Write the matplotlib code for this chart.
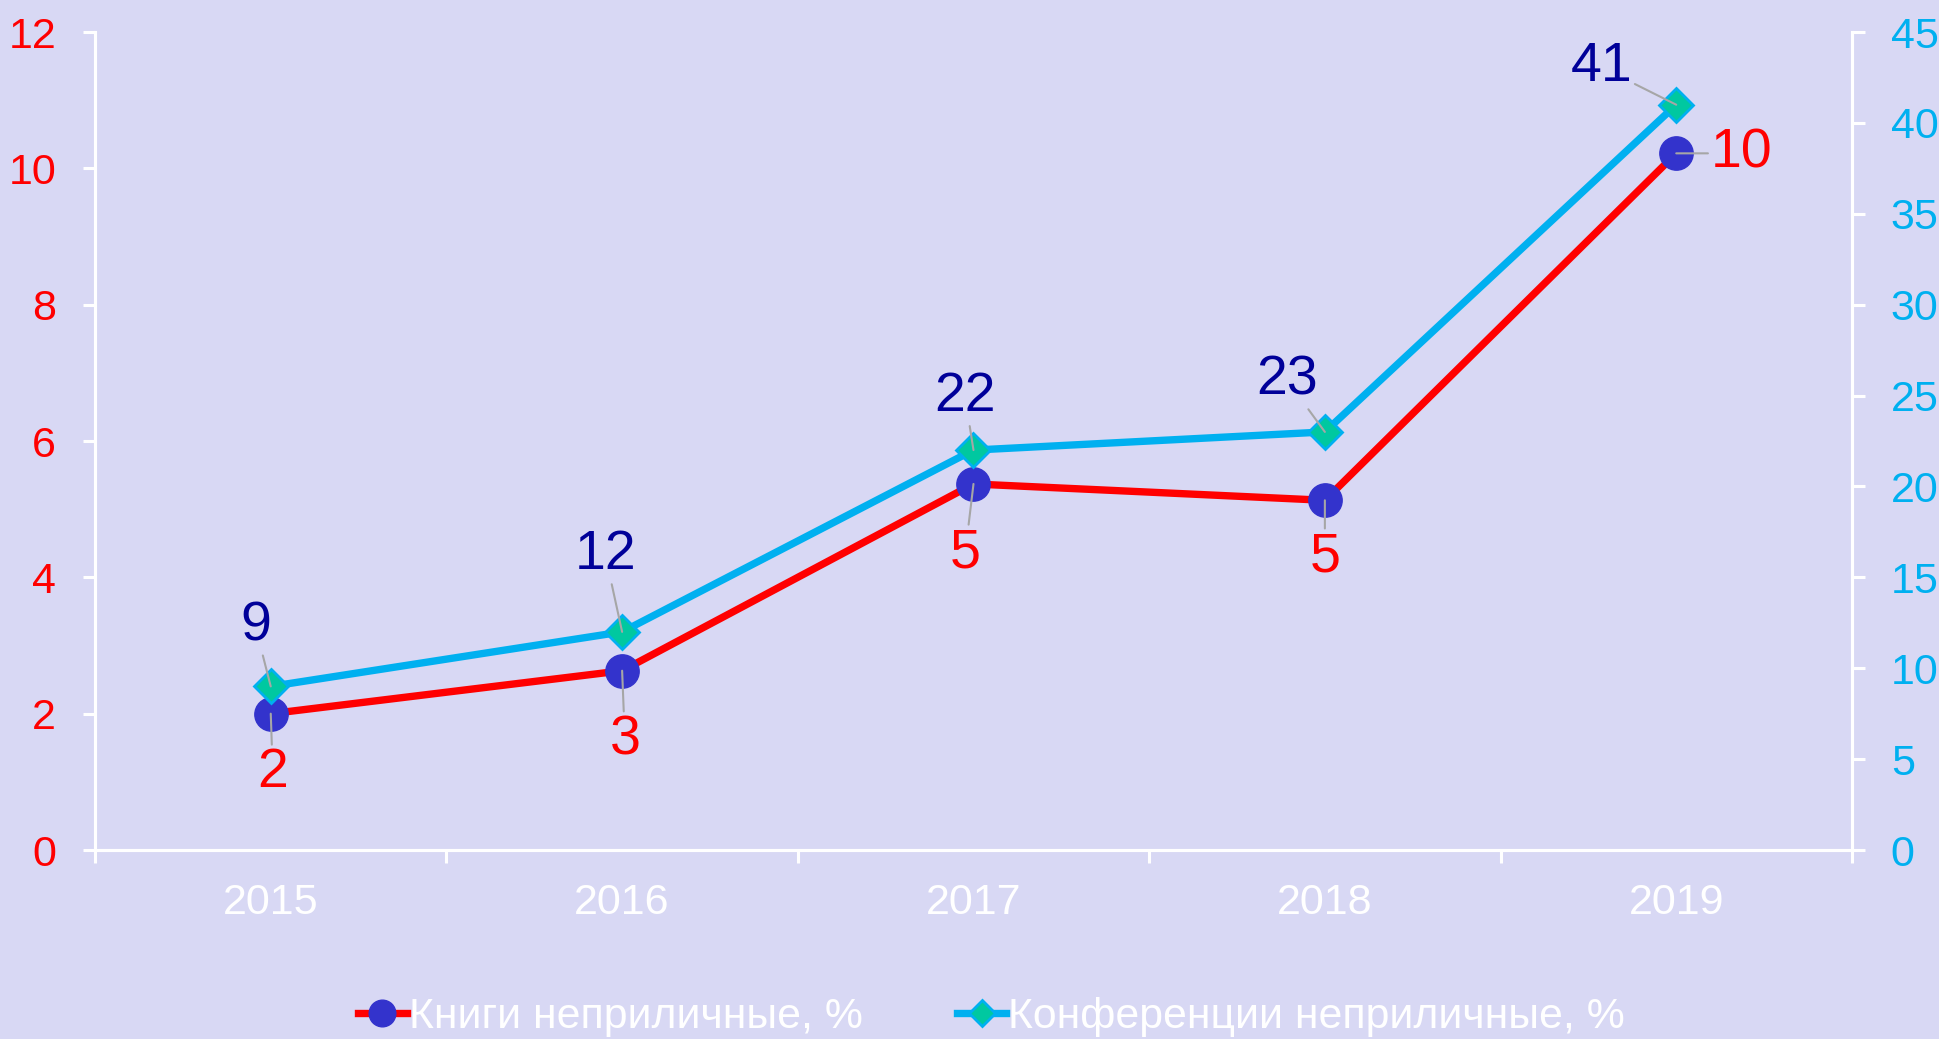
import matplotlib.pyplot as plt
import numpy as np

years = ['2015', '2016', '2017', '2018', '2019']
books = [2.0, 2.63, 5.37, 5.13, 10.22]
books_labels = ['2', '3', '5', '5', '10']
confs = [9, 12, 22, 23, 41]
confs_labels = ['9', '12', '22', '23', '41']

# label offsets in points (layout only)
books_off = [(1.5, -43), (2, -50), (-6, -50), (0, -41), (47, 0)]
confs_off = [(-11, 43), (-12, 55), (-6, 38), (-27, 37), (-54, 27)]

bg = '#D8D8F4'
red = '#FF0000'
cyan = '#00B0F0'

plt.rcParams['font.family'] = ['Liberation Sans', 'DejaVu Sans']

fig = plt.figure(figsize=(19.4, 10.39), dpi=100, facecolor=bg)
ax1 = fig.add_axes([0.049, 0.1819, 0.9056, 0.7873])
ax1.set_facecolor(bg)
ax2 = ax1.twinx()
ax2.patch.set_visible(False)

x = np.arange(len(years))
l1, = ax1.plot(x, books, color=red, lw=5.3, marker='o', ms=24,
               markerfacecolor='#3333CC', markeredgecolor='#3333CC',
               label='Книги неприличные, %', zorder=2)
l2, = ax2.plot(x, confs, color=cyan, lw=5.3, marker='D', ms=17,
               markerfacecolor='#00C8A0', markeredgecolor=cyan, markeredgewidth=2,
               label='Конференции неприличные, %', zorder=2)

ax1.set_ylim(0, 12)
ax2.set_ylim(0, 45)
ax1.set_xlim(-0.5, 4.5)
ax1.set_yticks(range(0, 13, 2))
ax2.set_yticks(range(0, 46, 5))
ax1.set_xticks(x)
ax1.set_xticklabels(years)
ax1.set_xticks(np.arange(-0.5, 5, 1), minor=True)

for ax in (ax1, ax2):
    ax.spines['top'].set_visible(False)
    for s in ('left', 'right', 'bottom'):
        ax.spines[s].set_color('white')
        ax.spines[s].set_linewidth(2.2)

ax1.tick_params(axis='x', which='major', length=0, pad=24, labelsize=31, labelcolor='white')
ax1.tick_params(axis='x', which='minor', length=9, width=2.2, color='white', direction='out')
ax1.tick_params(axis='y', length=9, width=2.2, color='white', pad=19, labelsize=31, labelcolor=red)
ax2.tick_params(axis='y', length=9, width=2.2, color='white', pad=19, labelsize=31, labelcolor=cyan)

lead = dict(arrowstyle='-', color='#A6A6A6', lw=1.5, shrinkA=0, shrinkB=0)
for xi, v, t, off in zip(x, books, books_labels, books_off):
    ax1.annotate(t, (xi, v), xytext=off, textcoords='offset points', ha='center', va='center',
                 fontsize=40, color=red, arrowprops=lead, zorder=5)
for xi, v, t, off in zip(x, confs, confs_labels, confs_off):
    ax2.annotate(t, (xi, v), xytext=off, textcoords='offset points', ha='center', va='center',
                 fontsize=40, color='#000099', arrowprops=lead, zorder=5)

fig.legend(handles=[l1, l2], loc='center', bbox_to_anchor=(0.511, 0.021), ncol=2, frameon=False,
           fontsize=30.8, labelcolor='white', markerscale=0.8, handlelength=1.15,
           handletextpad=0.05, columnspacing=2.2)

fig.savefig('out.png', dpi=100, facecolor=bg)
